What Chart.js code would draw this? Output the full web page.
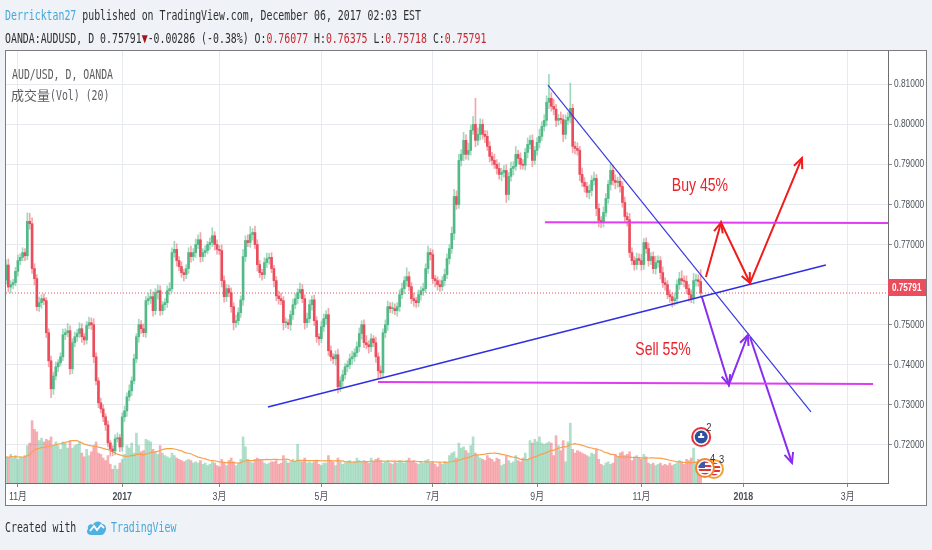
<!DOCTYPE html>
<html>
<head>
<meta charset="utf-8">
<script src="https://cdn.jsdelivr.net/npm/chart.js@4.4.0/dist/chart.umd.min.js"></script>
<style>
  html, body { margin: 0; padding: 0; background: #eff2f6; width: 932px; height: 550px; overflow: hidden; }
  #wrap { position: relative; width: 932px; height: 550px; }
  #chart { position: absolute; left: 0; top: 0; }
  .mono { position: absolute; font-family: "DejaVu Sans Mono", monospace; font-size: 14px; line-height: 15px;
          white-space: nowrap; transform: scaleX(0.705); transform-origin: 0 0; color: #2f2f2f; }
  .r { color: #c8282f; }
  .grey { color: #5d5d5d; }
</style>
</head>
<body>
<div id="wrap">
  <canvas id="chart" width="932" height="550"></canvas>
  <div class="mono" style="left:5px;top:8px"><span style="color:#45a9de">Derricktan27</span> published on TradingView.com, December 06, 2017 02:03 EST</div>
  <div class="mono" style="left:5px;top:31px">OANDA:AUDUSD, D 0.75791<span style="color:#a8141b">▼</span>-0.00286 (-0.38%) O:<span class="r">0.76077</span> H:<span class="r">0.76375</span> L:<span class="r">0.75718</span> C:<span class="r">0.75791</span></div>
  <div class="mono grey" style="left:12px;top:67px">AUD/USD, D, OANDA</div>
  <div style="position:absolute;left:11px;top:87px;white-space:nowrap;color:#5d5d5d;font-family:'Noto Sans CJK SC';font-size:13px;line-height:16px">成交量</div>
  <div class="mono grey" style="left:50px;top:88px">(Vol) (20)</div>
  <div class="mono" style="left:5px;top:520px">Created with</div>
  <svg style="position:absolute;left:86px;top:519px" width="21" height="17" viewBox="0 0 21 17">
    <path d="M5 16 C1 16 0 12 2 10 C1 6 5 4 7 6 C8 2 14 1 16 5 C20 5 21 10 19 13 C18 15 17 16 15 16 Z" fill="#4fb0e3"/>
    <polyline points="4,12 8,7 11,11 15,6 18,9" fill="none" stroke="#fff" stroke-width="1.8"/>
  </svg>
  <div class="mono" style="left:111px;top:520px;color:#45a9de">TradingView</div>
</div>
<script>
// daily AUD/USD closes in pips (x 0.0001), first bar 2016-10-26, last bar 2017-12-06
const firstOpen = 7612;
const closes = [
  7649, 7594, 7600, 7605, 7633, 7660, 7668, 7680, 7672, 7758,
  7752, 7640, 7615, 7545, 7555, 7565, 7560, 7480, 7410, 7340,
  7372, 7395, 7405, 7420, 7475, 7480, 7485, 7390, 7455, 7470,
  7478, 7490, 7470, 7462, 7498, 7505, 7500, 7420, 7360, 7305,
  7290, 7270, 7250, 7205, 7190, 7185, 7215, 7218, 7195, 7270,
  7285, 7320, 7335, 7360, 7415, 7470, 7500, 7490, 7480, 7560,
  7565, 7570, 7535, 7580, 7585, 7535, 7550, 7555, 7585, 7590,
  7680, 7688, 7660, 7645, 7630, 7625, 7640, 7680, 7670, 7680,
  7700, 7712, 7670, 7680, 7685, 7700, 7705, 7722, 7700, 7688,
  7685, 7610, 7570, 7590, 7580, 7545, 7505, 7510, 7530, 7562,
  7670, 7710, 7705, 7725, 7730, 7700, 7650, 7630, 7625, 7655,
  7665, 7668, 7640, 7610, 7572, 7565, 7560, 7505, 7505, 7500,
  7525, 7550, 7565, 7580, 7588, 7565, 7505, 7515, 7550, 7562,
  7510, 7470, 7465, 7495, 7515, 7525, 7435, 7420, 7415, 7425,
  7345, 7360, 7375, 7395, 7400, 7415, 7420, 7430, 7445, 7478,
  7500, 7455, 7450, 7445, 7465, 7455, 7420, 7385, 7380, 7480,
  7500, 7545, 7540, 7540, 7535, 7545, 7575, 7590, 7610, 7620,
  7595, 7565, 7560, 7555, 7575, 7585, 7590, 7640, 7680, 7675,
  7615, 7610, 7600, 7595, 7610, 7625, 7665, 7690, 7728, 7820,
  7800, 7910, 7925, 7960, 7925, 7935, 7985, 8000, 7960, 7975,
  8000, 7975, 7970, 7945, 7920, 7910, 7900, 7890, 7875, 7880,
  7885, 7825, 7870, 7890, 7895, 7925, 7915, 7900, 7898, 7930,
  7950, 7960, 7910, 7935, 7955, 7970, 7995, 8010, 8055, 8065,
  8045, 8038, 8010, 8015, 8012, 7975, 8010, 8018, 8040, 7945,
  7940, 7935, 7875, 7855, 7845, 7830, 7835, 7860, 7865, 7790,
  7760, 7756, 7780, 7815, 7850, 7885, 7860, 7855, 7858, 7845,
  7805, 7770, 7762, 7680, 7660, 7650, 7665, 7660, 7650, 7705,
  7690, 7660, 7670, 7640, 7655, 7660, 7630, 7605, 7600, 7575,
  7570, 7560, 7565, 7600, 7615, 7610, 7608, 7590, 7575, 7565,
  7610, 7612, 7607.7, 7579.1
];
// wick length above / below the body, pips
const upWick = [
  12, 15, 10, 8, 10, 14, 9, 12, 10, 21,
  20, 15, 12, 10, 14, 10, 12, 8, 10, 12,
  10, 12, 8, 10, 14, 10, 18, 12, 10, 12,
  10, 15, 12, 8, 10, 14, 12, 15, 10, 8,
  12, 10, 8, 10, 6, 8, 10, 12, 8, 10,
  12, 10, 15, 10, 12, 8, 14, 10, 12, 10,
  14, 18, 12, 10, 14, 12, 8, 10, 12, 15,
  12, 20, 14, 10, 12, 8, 10, 12, 16, 10,
  14, 12, 18, 10, 12, 8, 12, 20, 10, 12,
  10, 14, 12, 10, 8, 12, 10, 14, 12, 10,
  18, 12, 14, 20, 10, 16, 12, 10, 8, 12,
  14, 10, 12, 8, 10, 12, 14, 10, 12, 8,
  10, 14, 12, 10, 16, 12, 10, 14, 12, 10,
  12, 10, 8, 14, 12, 10, 16, 12, 8, 10,
  14, 10, 12, 8, 10, 12, 14, 10, 12, 14,
  10, 12, 18, 10, 12, 8, 14, 10, 12, 10,
  12, 14, 10, 16, 12, 10, 12, 14, 10, 22,
  12, 10, 14, 8, 12, 10, 14, 12, 16, 10,
  12, 8, 10, 12, 10, 14, 12, 10, 16, 18,
  14, 16, 12, 20, 14, 18, 12, 20, 65, 16,
  14, 12, 10, 14, 12, 10, 16, 12, 14, 10,
  12, 14, 10, 16, 12, 20, 10, 14, 12, 10,
  16, 12, 14, 10, 12, 18, 12, 14, 16, 60,
  14, 18, 12, 10, 16, 12, 14, 12, 63, 10,
  12, 14, 10, 16, 12, 10, 14, 12, 16, 10,
  12, 10, 14, 12, 10, 16, 12, 14, 10, 18,
  12, 14, 10, 16, 12, 10, 14, 12, 16, 10,
  12, 14, 10, 12, 16, 12, 10, 14, 12, 10,
  12, 10, 14, 12, 16, 20, 12, 14, 10, 12,
  18, 14, 12, 29.8
];
const downWick = [
  10, 12, 15, 10, 8, 12, 10, 8, 12, 10,
  14, 12, 16, 10, 12, 14, 10, 12, 15, 22,
  14, 10, 12, 8, 10, 12, 10, 14, 12, 10,
  12, 10, 14, 12, 10, 8, 12, 15, 10, 12,
  10, 12, 14, 10, 18, 12, 10, 8, 12, 10,
  12, 14, 10, 12, 8, 10, 14, 12, 10, 12,
  10, 12, 14, 10, 16, 12, 10, 14, 12, 10,
  8, 12, 14, 10, 12, 16, 10, 12, 14, 10,
  12, 10, 14, 12, 10, 8, 12, 10, 14, 12,
  10, 16, 14, 12, 10, 14, 18, 12, 10, 12,
  14, 12, 10, 12, 14, 10, 16, 12, 14, 10,
  12, 14, 10, 16, 12, 14, 10, 18, 12, 10,
  14, 12, 10, 12, 14, 10, 16, 12, 10, 14,
  12, 14, 16, 10, 12, 14, 12, 10, 12, 16,
  15, 12, 14, 10, 12, 10, 14, 12, 10, 12,
  14, 12, 10, 16, 12, 10, 14, 18, 12, 10,
  12, 14, 10, 12, 10, 14, 12, 10, 12, 14,
  10, 12, 14, 12, 10, 14, 12, 10, 12, 14,
  12, 16, 14, 12, 10, 12, 10, 14, 12, 16,
  12, 10, 14, 16, 12, 14, 12, 10, 16, 12,
  14, 12, 16, 10, 14, 12, 10, 14, 12, 16,
  12, 20, 14, 12, 16, 10, 14, 12, 10, 12,
  14, 12, 16, 10, 12, 14, 10, 12, 14, 16,
  12, 14, 16, 12, 10, 18, 12, 10, 14, 16,
  14, 12, 16, 10, 14, 12, 16, 14, 12, 18,
  16, 14, 12, 10, 12, 14, 12, 16, 12, 14,
  12, 14, 16, 12, 10, 14, 12, 10, 14, 12,
  12, 14, 10, 12, 14, 12, 16, 12, 14, 10,
  14, 16, 12, 14, 12, 10, 14, 12, 16, 10,
  12, 14, 12, 7.3
];
// daily volume (relative units)
const volumes = [
  105, 100, 115, 100, 110, 95, 105, 100, 110, 150,
  160, 250, 215, 205, 170, 180, 165, 175, 170, 185,
  150, 165, 150, 135, 165, 160, 140, 170, 140, 150,
  155, 165, 120, 105, 135, 110, 125, 150, 165, 120,
  115, 100, 90, 110, 75, 55, 70, 55, 80, 95,
  115, 150, 140, 160, 120, 200, 150, 125, 130, 175,
  170, 165, 135, 125, 115, 150, 120, 110, 105, 100,
  120, 110, 100, 95, 90, 85, 90, 95, 90, 80,
  85, 80, 90, 75, 80, 70, 75, 85, 80, 70,
  65, 95, 80, 70, 90, 100, 85, 70, 80, 95,
  185, 145, 95, 85, 80, 95, 100, 95, 90, 80,
  75, 80, 85, 85, 90, 75, 80, 110, 90, 80,
  85, 95, 85, 155, 90, 85, 100, 80, 85, 80,
  85, 90, 75, 70, 80, 80, 110, 90, 85, 70,
  100, 85, 75, 80, 85, 90, 80, 85, 100, 90,
  85, 90, 85, 80, 100, 85, 95, 100, 90, 80,
  85, 90, 80, 75, 85, 80, 90, 85, 80, 90,
  100, 85, 90, 80, 75, 85, 80, 90, 95, 80,
  85, 75, 65, 80, 75, 85, 80, 110, 120, 125,
  100, 160, 140, 145, 130, 120, 150, 185, 120, 110,
  100, 95, 90, 110, 100, 95, 85, 100, 95, 70,
  75, 110, 90, 80, 85, 110, 90, 85, 100, 120,
  95, 170, 160, 175, 165, 185, 160, 155, 160, 165,
  160, 110, 190, 150, 130, 170, 85, 165, 240, 135,
  120, 130, 125, 120, 115, 110, 105, 120, 115, 135,
  95, 75, 70, 80, 85, 75, 80, 115, 105, 120,
  125, 110, 115, 125, 90, 105, 110, 100, 95, 115,
  105, 80, 75, 80, 70, 75, 80, 70, 75, 70,
  80, 70, 75, 80, 90, 85, 75, 95, 90, 100,
  140, 85, 95, 70
];

// time axis: bar index of each month label
const monthTickIdx = [5, 49, 90, 133, 180, 224, 268, 311, 355];
const monthLabels = ['11月', '2017', '3月', '5月', '7月', '9月', '11月', '2018', '3月'];
const priceTicks = [0.72, 0.73, 0.74, 0.75, 0.76, 0.77, 0.78, 0.79, 0.80, 0.81];
const lastPrice = 0.75791;

// hand-drawn lines (bar index, price)
const supportX = [110.5, 345.8];
const supportY = [0.72948, 0.76489];
const downTrendX = [228.6, 339.5];
const downTrendY = [0.80978, 0.72823];
const upperLevelX = [227.3, 372];
const upperLevelY = [0.77555, 0.77540];
const lowerLevelX = [156.9, 365.7];
const lowerLevelY = [0.73571, 0.73521];
const buyPathX = [295.2, 301.6, 313.8, 335.7];
const buyPathY = [0.76190, 0.77549, 0.76040, 0.79157];
const sellPathX = [293.5, 304.9, 312.9];
const sellPathY = [0.75691, 0.73496, 0.74743];
const sellPath2X = [313.8, 331.5];
const sellPath2Y = [0.74693, 0.71551];
const noteText = ['Buy 45%', 'Sell 55%'];
const noteX = [292.7, 277.1];
const noteY = [0.78459, 0.74369];
// economic event markers: bar index and count label
const eventIdx = [293.2, 294.8];
const eventLabels = ['2', '4'];

const UP = '#53b987';
const DOWN = '#eb4d5c';
const AXIS_TEXT = '#4a4f5a';

const P = v => v / 10000;
const opens = closes.map((c, i) => (i === 0 ? firstOpen : closes[i - 1]));
const isUp = i => closes[i] >= opens[i];
const bodies = closes.map((c, i) => ({ x: i, y: [P(opens[i]), P(c)] }));
const wicks = closes.map((c, i) => ({
  x: i,
  y: [P(Math.min(opens[i], c) - downWick[i]), P(Math.max(opens[i], c) + upWick[i])]
}));
const volBars = volumes.map((v, i) => ({ x: i, y: v }));
// 20 bar simple moving average of volume
const volMA = volumes.map((v, i) => {
  const w = volumes.slice(Math.max(0, i - 19), i + 1);
  return { x: i, y: w.reduce((a, b) => a + b, 0) / w.length };
});

function pathSet(xs, ys, color, width, arrows) {
  return {
    type: 'line',
    data: xs.map((x, i) => ({ x: x, y: ys[i] })),
    borderColor: color,
    borderWidth: width,
    pointRadius: 0,
    tension: 0,
    fill: false,
    order: 0,
    arrows: arrows,
  };
}

function arrowHead(ctx, x1, y1, x2, y2, color) {
  const a = Math.atan2(y2 - y1, x2 - x1);
  const len = 11;
  const s = 0.42;
  ctx.beginPath();
  ctx.moveTo(x2 - len * Math.cos(a - s), y2 - len * Math.sin(a - s));
  ctx.lineTo(x2, y2);
  ctx.lineTo(x2 - len * Math.cos(a + s), y2 - len * Math.sin(a + s));
  ctx.strokeStyle = color;
  ctx.lineWidth = 2;
  ctx.stroke();
}

// condensed text: the narrow TradingView fonts are not installed, so squeeze horizontally
function narrowText(ctx, text, x, y, sx, align) {
  ctx.save();
  ctx.translate(x, y);
  ctx.scale(sx, 1);
  ctx.textAlign = align;
  ctx.fillText(text, 0, 0);
  ctx.restore();
}

function eventBadge(ctx, x, y, ring, label, flag) {
  ctx.save();
  ctx.beginPath();
  ctx.arc(x, y, 9, 0, Math.PI * 2);
  ctx.fillStyle = '#ffffff';
  ctx.fill();
  ctx.lineWidth = 2;
  ctx.strokeStyle = ring;
  ctx.stroke();
  ctx.beginPath();
  ctx.arc(x, y, 6.5, 0, Math.PI * 2);
  ctx.clip();
  if (flag) {
    for (let k = 0; k < 7; k++) {
      ctx.fillStyle = k % 2 ? '#ffffff' : '#e0343c';
      ctx.fillRect(x - 7, y - 7 + k * 2, 14, 2);
    }
    ctx.fillStyle = '#3d5aa8';
    ctx.fillRect(x - 7, y - 7, 7, 7);
  } else {
    ctx.fillStyle = '#2c4fa0';
    ctx.fillRect(x - 7, y - 7, 14, 14);
    ctx.fillStyle = '#ffffff';
    ctx.fillRect(x - 3, y - 1, 6, 2);
    ctx.fillRect(x - 1, y - 4, 2, 3);
  }
  ctx.restore();
  ctx.save();
  ctx.fillStyle = '#333';
  ctx.font = '11px "Liberation Sans", sans-serif';
  ctx.textBaseline = 'middle';
  narrowText(ctx, label, x + 5, y - 9, 0.85, 'left');
  ctx.restore();
}

const tvPlugin = {
  id: 'tvDecor',
  beforeDraw(chart) {
    const ctx = chart.ctx;
    ctx.save();
    ctx.fillStyle = '#ffffff';
    ctx.fillRect(5, 50, 922, 456);
    ctx.restore();
  },
  afterDatasetsDraw(chart) {
    const { ctx, chartArea: a } = chart;
    const xs = chart.scales.x;
    const ys = chart.scales.y;
    ctx.save();
    ctx.beginPath();
    ctx.rect(a.left, a.top, a.right - a.left, a.bottom - a.top);
    ctx.clip();
    chart.data.datasets.forEach(ds => {
      if (!ds.arrows) return;
      for (let k = 1; k < ds.data.length; k++) {
        arrowHead(ctx,
          xs.getPixelForValue(ds.data[k - 1].x), ys.getPixelForValue(ds.data[k - 1].y),
          xs.getPixelForValue(ds.data[k].x), ys.getPixelForValue(ds.data[k].y),
          ds.borderColor);
      }
    });
    ctx.font = '19px "Liberation Sans", sans-serif';
    ctx.fillStyle = '#e8232c';
    ctx.textBaseline = 'middle';
    noteText.forEach((t, i) => {
      narrowText(ctx, t, xs.getPixelForValue(noteX[i]), ys.getPixelForValue(noteY[i]), 0.74, 'center');
    });
    // event markers near the time axis
    const ex1 = xs.getPixelForValue(eventIdx[0]);
    const ex2 = xs.getPixelForValue(eventIdx[1]);
    eventBadge(ctx, ex2 + 9, a.bottom - 14, '#f5a12f', '3', true);
    eventBadge(ctx, ex2, a.bottom - 15, '#f0872c', eventLabels[1], true);
    eventBadge(ctx, ex1, a.bottom - 46, '#e8323a', eventLabels[0], false);
    ctx.restore();
  },
  afterDraw(chart) {
    const { ctx, chartArea: a } = chart;
    const xs = chart.scales.x;
    const ys = chart.scales.y;
    ctx.save();
    ctx.fillStyle = AXIS_TEXT;
    ctx.font = '11px "Liberation Sans", sans-serif';
    ctx.textBaseline = 'middle';
    priceTicks.forEach(v => {
      narrowText(ctx, v.toFixed(5), a.right + 6, ys.getPixelForValue(v), 0.76, 'left');
    });
    ctx.textBaseline = 'top';
    monthTickIdx.forEach((v, i) => {
      const year = /^\d{4}$/.test(monthLabels[i]);
      ctx.font = (year ? 'bold ' : '') + '11px "Liberation Sans", "Noto Sans CJK SC", sans-serif';
      narrowText(ctx, monthLabels[i], xs.getPixelForValue(v), a.bottom + 8, 0.8, 'center');
    });
    const py = ys.getPixelForValue(lastPrice);
    ctx.fillStyle = DOWN;
    ctx.fillRect(a.right, py - 14, 39, 17);
    ctx.fillStyle = '#ffffff';
    ctx.font = 'bold 11px "Liberation Sans", sans-serif';
    ctx.textBaseline = 'middle';
    narrowText(ctx, lastPrice.toFixed(5), a.right + 4, py - 5, 0.74, 'left');
    ctx.strokeStyle = '#7d7d7d';
    ctx.lineWidth = 1;
    ctx.strokeRect(5.5, 50.5, 921, 455);
    ctx.restore();
  }
};

new Chart(document.getElementById('chart').getContext('2d'), {
  type: 'bar',
  data: {
    datasets: [
      pathSet(supportX, supportY, '#2f2fe0', 1.5, false),
      pathSet(downTrendX, downTrendY, '#3a3ae0', 1.2, false),
      pathSet(upperLevelX, upperLevelY, '#e03cf2', 2, false),
      pathSet(lowerLevelX, lowerLevelY, '#e03cf2', 2, false),
      pathSet(buyPathX, buyPathY, '#f01b1b', 2, true),
      pathSet(sellPathX, sellPathY, '#8a2cf0', 2, true),
      pathSet(sellPath2X, sellPath2Y, '#8a2cf0', 2, true),
      {
        type: 'line',
        data: [{ x: 0, y: lastPrice }, { x: 372, y: lastPrice }],
        borderColor: DOWN,
        borderWidth: 1,
        borderDash: [1, 2],
        pointRadius: 0,
        order: 1,
      },
      {
        data: bodies,
        backgroundColor: c => (isUp(c.dataIndex) ? UP : DOWN),
        barThickness: 2,
        minBarLength: 1,
        grouped: false,
        order: 2,
      },
      {
        data: wicks,
        backgroundColor: c => (isUp(c.dataIndex) ? 'rgba(83,185,135,0.55)' : 'rgba(235,77,92,0.5)'),
        barThickness: 1,
        grouped: false,
        order: 3,
      },
      {
        type: 'line',
        yAxisID: 'yv',
        data: volMA,
        borderColor: '#f7a04b',
        borderWidth: 1.2,
        pointRadius: 0,
        tension: 0,
        order: 4,
      },
      {
        yAxisID: 'yv',
        data: volBars,
        backgroundColor: c => (isUp(c.dataIndex) ? 'rgba(83,185,135,0.45)' : 'rgba(235,77,92,0.45)'),
        barThickness: 2,
        grouped: false,
        order: 5,
      },
    ],
  },
  options: {
    responsive: false,
    animation: false,
    events: [],
    layout: { padding: { left: 6, top: 51, right: 5, bottom: 44 } },
    plugins: { legend: { display: false }, tooltip: { enabled: false } },
    scales: {
      x: {
        type: 'linear',
        min: 0,
        max: 372,
        offset: false,
        afterBuildTicks: s => { s.ticks = monthTickIdx.map(v => ({ value: v })); },
        afterFit: s => { s.height = 23; },
        ticks: { display: false },
        grid: { color: '#e6eaef', offset: false, tickLength: 4, tickColor: '#888' },
        border: { color: '#6e6e6e' },
      },
      y: {
        position: 'right',
        min: 0.7105,
        max: 0.8183,
        afterBuildTicks: s => { s.ticks = priceTicks.map(v => ({ value: v })); },
        afterFit: s => { s.width = 39; },
        ticks: { display: false },
        grid: { color: '#e6eaef', tickLength: 4, tickColor: '#888' },
        border: { color: '#6e6e6e' },
      },
      yv: { display: false, min: 0, max: 1732 },
    },
  },
  plugins: [tvPlugin],
});
</script>
</body>
</html>
